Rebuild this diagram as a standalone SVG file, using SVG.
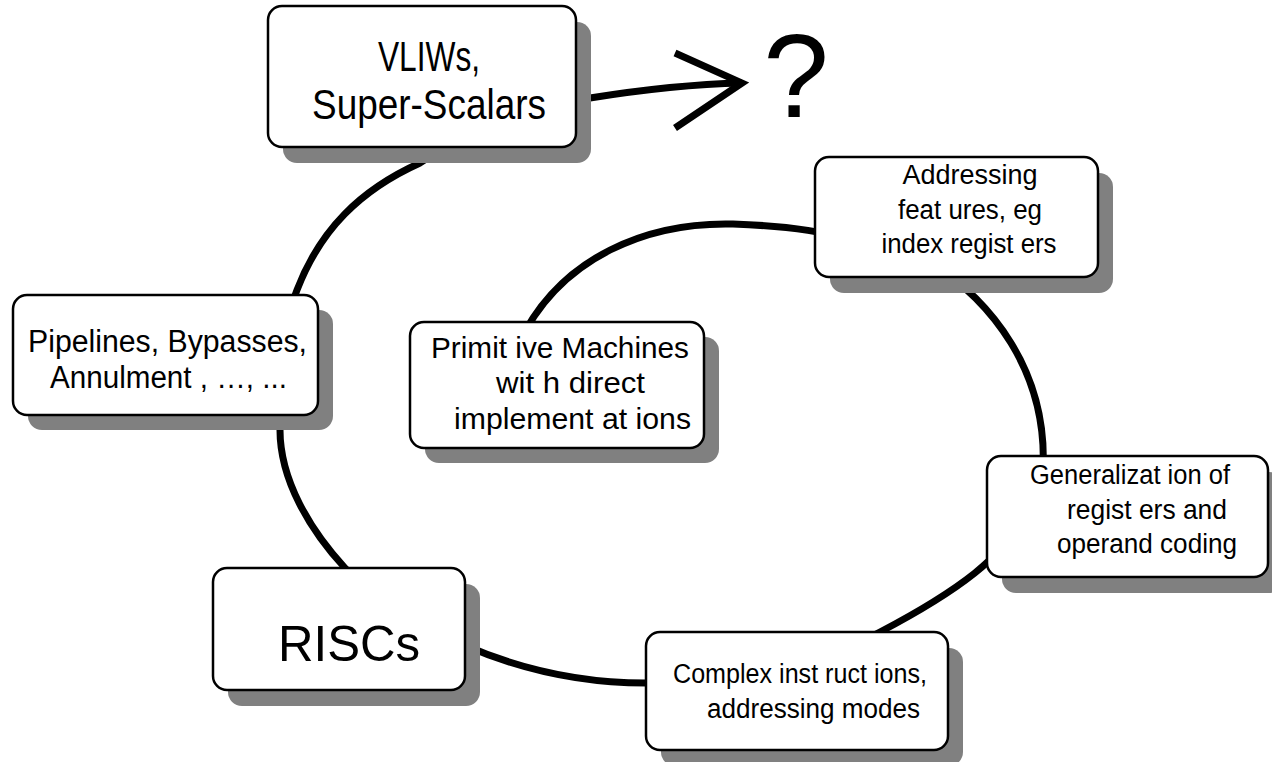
<svg xmlns="http://www.w3.org/2000/svg" width="1272" height="762" viewBox="0 0 1272 762">
<style>
.shadow{fill:#808080;stroke:none}
.box{fill:#ffffff;stroke:#000000;stroke-width:2.5}
.t{font-family:"Liberation Sans",Arial,sans-serif;fill:#000000;text-anchor:middle}
.wire{fill:none;stroke:#000000;stroke-width:7;stroke-linecap:butt}
</style>
<rect width="1272" height="762" fill="#ffffff"/>
<g id="connectors">
  <path class="wire" d="M 518,345 C 560,255 650,222 733,224 C 790,226 830,232 870,245"/>
  <path class="wire" d="M 930,262 C 990,300 1048,370 1043,470"/>
  <path class="wire" d="M 1020,520 C 1005,555 960,590 880,632 C 870,637 865,640 860,642"/>
  <path class="wire" d="M 700,683 L 646,683 C 570,683 510,665 464,645 L 440,635"/>
  <path class="wire" d="M 370,600 C 360,585 352,576 345,568 C 310,530 280,480 280,430 C 278,395 278,375 280,360"/>
  <path class="wire" d="M 285,330 C 290,310 293,300 297,290 C 320,230 360,190 420,163 L 440,150"/>
  <path class="wire" d="M 560,105 C 570,101 580,99 590,98 C 640,90 700,84 742,83"/>
  <polyline class="wire" points="675,53 742,83 675,128" stroke-linejoin="miter" stroke-miterlimit="10"/>
</g>
<g id="vliw">
  <rect class="shadow" x="283" y="22" width="308" height="141" rx="14"/>
  <rect class="box" x="268" y="6" width="308" height="141" rx="14"/>
  <text class="t" x="429" y="71" font-size="42" textLength="102" lengthAdjust="spacingAndGlyphs">VLIWs,</text>
  <text class="t" x="429" y="119" font-size="42" textLength="234" lengthAdjust="spacingAndGlyphs">Super-Scalars</text>
</g>
<g id="question">
  <text class="t" x="796" y="117" font-size="118">?</text>
</g>
<g id="addressing">
  <rect class="shadow" x="830" y="173" width="283" height="120" rx="14"/>
  <rect class="box" x="815" y="157" width="283" height="120" rx="14"/>
  <text class="t" x="970" y="184" font-size="27" textLength="135" lengthAdjust="spacingAndGlyphs">Addressing</text>
  <text class="t" x="970" y="219" font-size="27" textLength="144" lengthAdjust="spacingAndGlyphs">feat ures, eg</text>
  <text class="t" x="969" y="253" font-size="27" textLength="175" lengthAdjust="spacingAndGlyphs">index regist ers</text>
</g>
<g id="pipelines">
  <rect class="shadow" x="28" y="310" width="305" height="120" rx="14"/>
  <rect class="box" x="13" y="295" width="305" height="120" rx="14"/>
  <text class="t" x="167.5" y="352" font-size="31" textLength="279" lengthAdjust="spacingAndGlyphs">Pipelines, Bypasses,</text>
  <text class="t" x="168.5" y="388" font-size="31" textLength="237" lengthAdjust="spacingAndGlyphs">Annulment , …, ...</text>
</g>
<g id="primitive">
  <rect class="shadow" x="425" y="337" width="294" height="126" rx="14"/>
  <rect class="box" x="410" y="322" width="294" height="126" rx="14"/>
  <text class="t" x="560" y="358" font-size="30" textLength="258" lengthAdjust="spacingAndGlyphs">Primit ive Machines</text>
  <text class="t" x="570.5" y="393" font-size="30" textLength="149" lengthAdjust="spacingAndGlyphs">wit h direct</text>
  <text class="t" x="572.5" y="429" font-size="30" textLength="237" lengthAdjust="spacingAndGlyphs">implement at ions</text>
</g>
<g id="generalization">
  <rect class="shadow" x="1002" y="472" width="281" height="121" rx="14"/>
  <rect class="box" x="987" y="456" width="281" height="121" rx="14"/>
  <text class="t" x="1130" y="484" font-size="27" textLength="200" lengthAdjust="spacingAndGlyphs">Generalizat ion of</text>
  <text class="t" x="1147" y="519" font-size="27" textLength="160" lengthAdjust="spacingAndGlyphs">regist ers and</text>
  <text class="t" x="1147" y="553" font-size="27" textLength="180" lengthAdjust="spacingAndGlyphs">operand coding</text>
</g>
<g id="riscs">
  <rect class="shadow" x="228" y="584" width="252" height="122" rx="14"/>
  <rect class="box" x="213" y="568" width="252" height="122" rx="14"/>
  <text class="t" x="349" y="661" font-size="50" textLength="142" lengthAdjust="spacingAndGlyphs">RISCs</text>
</g>
<g id="complex">
  <rect class="shadow" x="661" y="648" width="302" height="118" rx="14"/>
  <rect class="box" x="646" y="632" width="302" height="118" rx="14"/>
  <text class="t" x="800" y="683" font-size="27" textLength="254" lengthAdjust="spacingAndGlyphs">Complex inst ruct ions,</text>
  <text class="t" x="813.5" y="718" font-size="27" textLength="213" lengthAdjust="spacingAndGlyphs">addressing modes</text>
</g>
</svg>
